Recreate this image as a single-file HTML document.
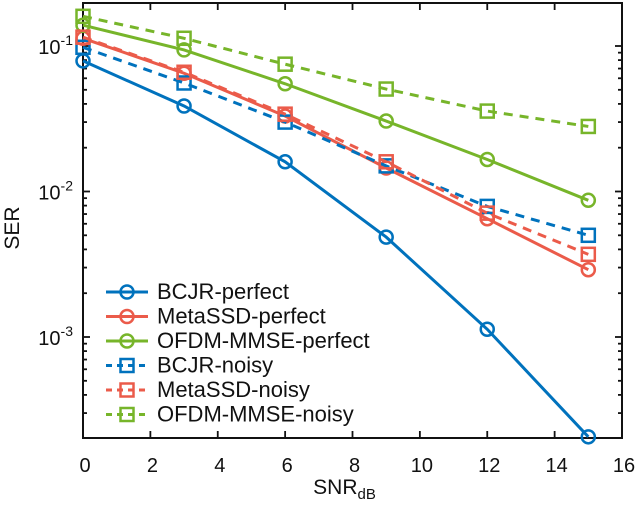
<!DOCTYPE html>
<html><head><meta charset="utf-8"><style>
body{margin:0;background:#fff}
svg text{font-family:"Liberation Sans",sans-serif;fill:#111}
</style></head><body>
<svg id="c" width="640" height="501" xmlns="http://www.w3.org/2000/svg"></svg>
<script>
const snr=[0,3,6,9,12,15];
const bcjrPerfect=[0.079,0.0387,0.016,0.00486,0.00113,0.000206];
const metaPerfect=[0.113,0.065,0.033,0.0145,0.0065,0.0029];
const ofdmPerfect=[0.139,0.094,0.055,0.0305,0.0166,0.0087];
const bcjrNoisy=[0.098,0.0557,0.030,0.015,0.0079,0.005];
const metaNoisy=[0.115,0.066,0.034,0.016,0.0071,0.0037];
const ofdmNoisy=[0.16,0.113,0.075,0.0506,0.0357,0.028];
const xTicks=[0,2,4,6,8,10,12,14,16];
const yDecades=[-1,-2,-3];
const names=["BCJR-perfect","MetaSSD-perfect","OFDM-MMSE-perfect","BCJR-noisy","MetaSSD-noisy","OFDM-MMSE-noisy"];

const NS="http://www.w3.org/2000/svg",svg=document.getElementById('c');
const L=83,R=622,T=3,B=438;
const X=v=>L+(v/16)*(R-L);
const Y=v=>46+(-1-Math.log10(v))*145.5;
function mk(t,a,p){const e=document.createElementNS(NS,t);for(const k in a)e.setAttribute(k,a[k]);(p||svg).appendChild(e);return e;}
const series=[
 {d:bcjrPerfect,c:"#0072bd",dash:false},
 {d:metaPerfect,c:"#eb5b4a",dash:false},
 {d:ofdmPerfect,c:"#77b52a",dash:false},
 {d:bcjrNoisy,c:"#0072bd",dash:true},
 {d:metaNoisy,c:"#eb5b4a",dash:true},
 {d:ofdmNoisy,c:"#77b52a",dash:true}];
const ax=mk('g',{});


xTicks.forEach(t=>{const x=X(t);
 mk('line',{x1:x,x2:x,y1:B,y2:B-7,stroke:'#111','stroke-width':1.8},ax);
 mk('line',{x1:x,x2:x,y1:T,y2:T+7,stroke:'#111','stroke-width':1.8},ax);
 const tx=mk('text',{x:x+2,y:B+34,'font-size':20,'text-anchor':'middle'},ax);tx.textContent=t;
 
 
});
for(let d=-4;d<=0;d++){for(let m=1;m<10;m++){const v=m*Math.pow(10,d);const y=Y(v);if(y<T||y>B)continue;
 const len=m==1?7:4;
 mk('line',{x1:L,x2:L+len,y1:y,y2:y,stroke:'#111','stroke-width':1.8},ax);
 mk('line',{x1:R,x2:R-len,y1:y,y2:y,stroke:'#111','stroke-width':1.8},ax);}}
yDecades.forEach(d=>{const y=Y(Math.pow(10,d));
 const tx=mk('text',{x:L-10,y:y+8,'font-size':20,'text-anchor':'end'},ax);
 tx.innerHTML='10<tspan dy="-9" font-size="14">'+d+'</tspan>';
 
 
});
mk('rect',{x:L,y:T,width:R-L,height:B-T,fill:'none',stroke:'#111','stroke-width':2},ax);
const xl=mk('text',{x:(L+R)/2-8,y:494,'font-size':21,'text-anchor':'middle'});
xl.innerHTML='SNR<tspan font-size="15" dy="5">dB</tspan>';


const yl=mk('text',{x:0,y:0,'font-size':21,'text-anchor':'middle',transform:'translate(19,228) rotate(-90)'});
yl.textContent='SER';


function marker(g,x,y,c,sq){
 if(sq)mk('rect',{x:x-6.5,y:y-6.5,width:13,height:13,fill:'none',stroke:c,'stroke-width':2.5},g);
 else mk('circle',{cx:x,cy:y,r:6.5,fill:'none',stroke:c,'stroke-width':2.5},g);}
series.forEach((s,i)=>{const g=mk('g',{});
 
 
 const pts=s.d.map((v,j)=>X(snr[j])+','+Y(v)).join(' ');
 const pl=mk('polyline',{points:pts,fill:'none',stroke:s.c,'stroke-width':3},g);
 if(s.dash)pl.setAttribute('stroke-dasharray','9,7');
 s.d.forEach((v,j)=>marker(g,X(snr[j]),Y(v),s.c,s.dash));
});
const lg=mk('g',{});


series.forEach((s,i)=>{const y=292+i*24.5;const e=mk('g',{},lg);
 
 
 const ln=mk('line',{x1:106,x2:148,y1:y,y2:y,stroke:s.c,'stroke-width':3},e);
 if(s.dash)ln.setAttribute('stroke-dasharray','6,5');
 marker(e,127,y,s.c,s.dash);
 const t=mk('text',{x:157,y:y+7,'font-size':22},e);t.textContent=names[i];});
</script>
</body></html>
